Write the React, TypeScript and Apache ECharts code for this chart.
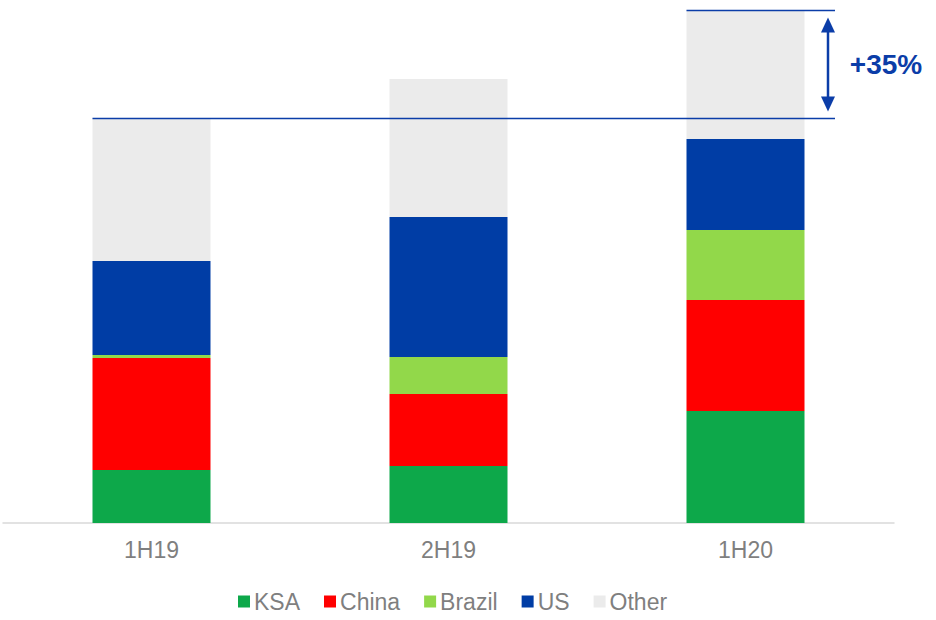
import React, { useEffect, useRef } from "react";
import * as echarts from "echarts";

const categories = ["1H19", "2H19", "1H20"];
const ksa = [53, 57, 112];
const china = [112, 72, 111];
const brazil = [3, 37, 70];
const us = [94, 140, 91];
const other = [143, 138, 129];
const growthLabel = "+35%";

const seriesDefs = [
  { name: "KSA", data: ksa, color: "#0DA84A" },
  { name: "China", data: china, color: "#FF0000" },
  { name: "Brazil", data: brazil, color: "#92D84A" },
  { name: "US", data: us, color: "#003DA5" },
  { name: "Other", data: other, color: "#EBEBEB" },
];

const BLUE = "#0B3DA8";
const FONT = "Liberation Sans, Arial, sans-serif";

export default function App() {
  const ref = useRef<HTMLDivElement>(null);
  useEffect(() => {
    if (!ref.current) return;
    const chart = echarts.init(ref.current, null, { renderer: "svg" });
    const totals = categories.map((_, i) =>
      seriesDefs.reduce((s, d) => s + d.data[i], 0)
    );
    chart.setOption({
      animation: false,
      grid: { left: 3, right: 42, top: 10, bottom: 97 },
      xAxis: {
        type: "category",
        data: categories,
        axisLine: { lineStyle: { color: "#D9D9D9", width: 1.5 } },
        axisTick: { show: false },
        axisLabel: { color: "#7F7F7F", fontSize: 23, fontFamily: FONT, margin: 15 },
      },
      yAxis: {
        type: "value",
        min: 0,
        max: Math.max(...totals),
        show: false,
        splitLine: { show: false },
      },
      legend: {
        bottom: 2,
        left: 233,
        icon: "rect",
        itemWidth: 12,
        itemHeight: 12,
        itemGap: 24,
        textStyle: { color: "#7F7F7F", fontSize: 23, fontFamily: FONT, padding: [0, 0, 0, -1] },
        data: seriesDefs.map((d) => d.name),
      },
      series: seriesDefs.map((d) => ({
        name: d.name,
        type: "bar",
        stack: "total",
        barWidth: 118,
        data: d.data,
        itemStyle: { color: d.color },
      })),
    });

    const first = chart.convertToPixel({ xAxisIndex: 0, yAxisIndex: 0 }, [0, totals[0]]) as number[];
    const last = chart.convertToPixel({ xAxisIndex: 0, yAxisIndex: 0 }, [2, totals[2]]) as number[];
    const halfBar = 59;
    const rightEnd = 835;
    const arrowX = 828;
    const y0 = Math.round(first[1]) + 0.5;
    const y1 = Math.round(last[1]) + 0.5;
    chart.setOption({
      graphic: [
        { type: "line", shape: { x1: first[0] - halfBar, y1: y0, x2: rightEnd, y2: y0 }, style: { stroke: BLUE, lineWidth: 1.3 }, z: 10 },
        { type: "line", shape: { x1: last[0] - halfBar, y1: y1, x2: rightEnd, y2: y1 }, style: { stroke: BLUE, lineWidth: 1.3 }, z: 10 },
        { type: "line", shape: { x1: arrowX, y1: y1 + 14, x2: arrowX, y2: y0 - 14 }, style: { stroke: BLUE, lineWidth: 2.5 }, z: 10 },
        { type: "polygon", shape: { points: [[arrowX, y1 + 7], [arrowX - 7, y1 + 22], [arrowX + 7, y1 + 22]] }, style: { fill: BLUE }, z: 10 },
        { type: "polygon", shape: { points: [[arrowX, y0 - 7], [arrowX - 7, y0 - 22], [arrowX + 7, y0 - 22]] }, style: { fill: BLUE }, z: 10 },
        {
          type: "text",
          x: 886,
          y: (y0 + y1) / 2,
          style: { text: growthLabel, fill: BLUE, font: `bold 28px ${FONT}`, align: "center", verticalAlign: "middle" },
          z: 10,
        },
      ],
    });
    return () => chart.dispose();
  }, []);
  return <div ref={ref} style={{ width: 936, height: 620, position: "absolute", left: 0, top: 0 }} />;
}
